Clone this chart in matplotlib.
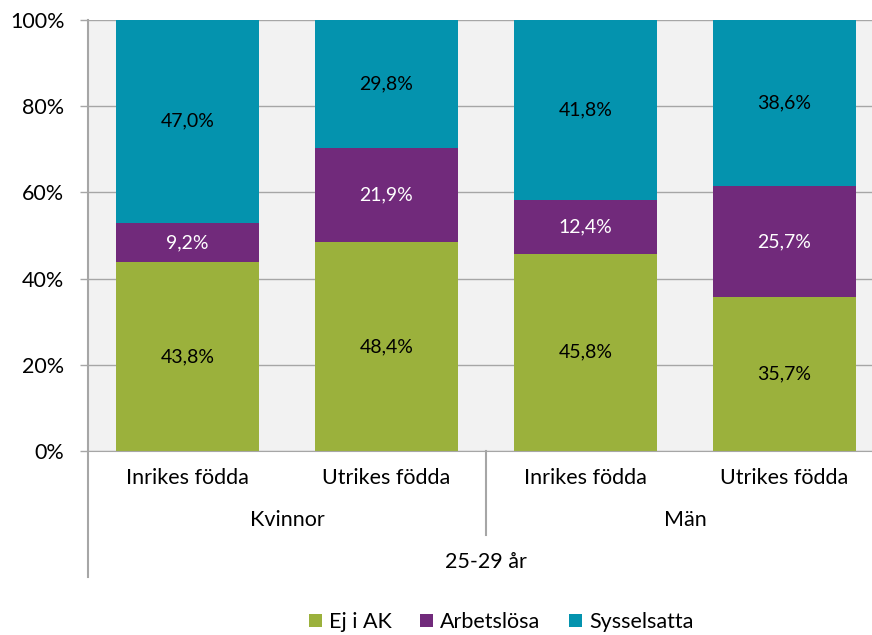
import matplotlib
matplotlib.use("Agg")
import matplotlib.pyplot as plt
import numpy as np

# Data
groups = ["Kvinnor", "Kvinnor", "Män", "Män"]
categories = ["Inrikes födda", "Utrikes födda", "Inrikes födda", "Utrikes födda"]
age_label = "25-29 år"
series_names = ["Ej i AK", "Arbetslösa", "Sysselsatta"]
ej_i_ak = [43.8, 48.4, 45.8, 35.7]
arbetslosa = [9.2, 21.9, 12.4, 25.7]
sysselsatta = [47.0, 29.8, 41.8, 38.6]

colors = ["#9BB13C", "#712A7B", "#0493AE"]
text_colors = ["black", "white", "black"]

plt.rcParams["font.family"] = ["Lato", "DejaVu Sans"]
FS = 15.5

fig = plt.figure(figsize=(8.72, 6.35), dpi=100)
ax = fig.add_axes([88 / 872, 1 - 451 / 635, 1 - 88 / 872, 431 / 635])
ax.set_facecolor("#F2F2F2")

x = np.arange(len(categories))
bottom = np.zeros(len(categories))
for name, vals, col, tcol in zip(series_names, [ej_i_ak, arbetslosa, sysselsatta], colors, text_colors):
    vals = np.array(vals)
    ax.bar(x, vals, 0.714, bottom=bottom, color=col, label=name, zorder=2)
    for xi, b, v in zip(x, bottom, vals):
        ax.text(xi, b + v / 2, f"{v:.1f}".replace(".", ",") + "%", ha="center", va="center",
                fontsize=14, color=tcol, zorder=3)
    bottom += vals

ax.set_xlim(-0.5, -0.5 + 784 / 199)
ax.set_ylim(0, 100)
ax.set_yticks(range(0, 101, 20))
ax.set_yticklabels([f"{t}%" for t in range(0, 101, 20)], fontsize=FS)
ax.yaxis.grid(True, color="#A6A6A6", linewidth=1, zorder=1)
ax.tick_params(axis="y", length=6, color="#A6A6A6", width=1, pad=11)
ax.tick_params(axis="x", length=0, labelbottom=False)
for s in ["top", "right"]:
    ax.spines[s].set_visible(False)
ax.spines["bottom"].set_color("#A6A6A6")
ax.spines["left"].set_visible(False)

# y axis line extended below the plot, and group separator
fig.add_artist(plt.Line2D([88 / 872, 88 / 872], [1 - 20 / 635, 1 - 577 / 635], color="#A6A6A6", lw=1.5))
trans = ax.get_xaxis_transform()
ax.plot([1.5, 1.5], [0, -84 / 431], color="#A6A6A6", lw=1.5, transform=trans, clip_on=False)

for xi, c in zip(x, categories):
    ax.text(xi, -27 / 431, c, transform=trans, ha="center", va="center", fontsize=FS)
for g in ["Kvinnor", "Män"]:
    idx = [i for i, gg in enumerate(groups) if gg == g]
    ax.text(np.mean(idx), -69 / 431, g, transform=trans, ha="center", va="center", fontsize=FS)
ax.text(1.5, -111 / 431, age_label, transform=trans, ha="center", va="center", fontsize=FS)

fig.legend(loc="center", bbox_to_anchor=(501 / 872, 1 - 622 / 635), ncol=3, frameon=False,
           fontsize=FS, handlelength=0.6, handleheight=0.6, handletextpad=0.35, columnspacing=1.3)

fig.savefig("out.png", dpi=100)
